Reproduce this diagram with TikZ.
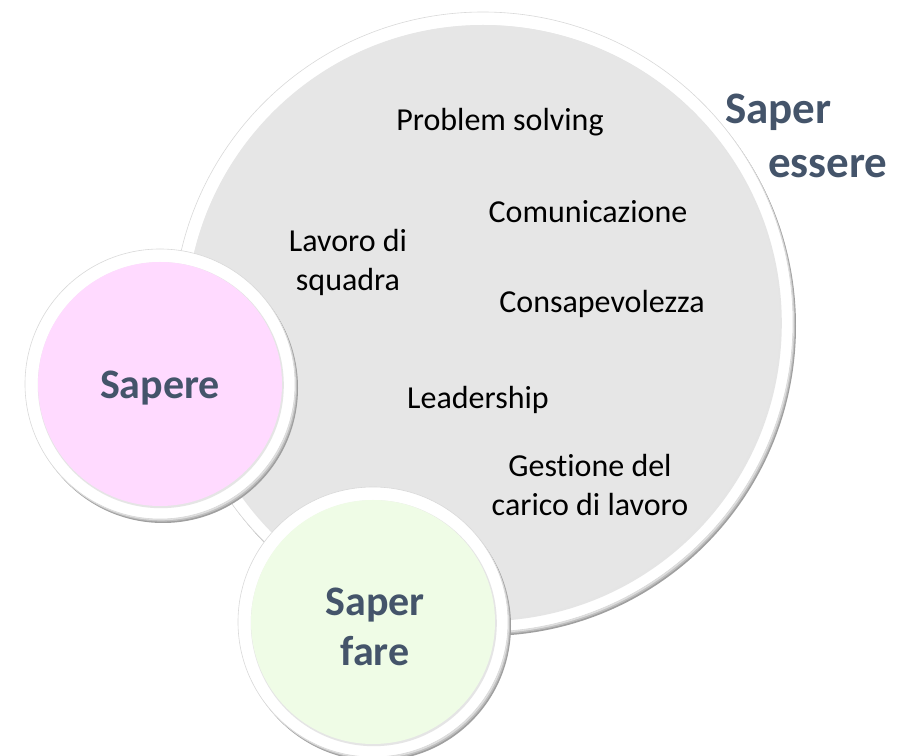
\documentclass[tikz,border=0pt]{standalone}
\usepackage{fontspec}
\setmainfont{Carlito}[Ligatures=NoCommon]
\usepackage{tikz}

\definecolor{discgray}{HTML}{E6E6E6}
\definecolor{discpink}{HTML}{FFDAFF}
\definecolor{discgreen}{HTML}{EFFCE6}
\definecolor{titleblue}{HTML}{44546A}

\tikzset{
    skill/.style={font=\fontsize{16}{19.5}\selectfont, align=center, text=black},
    area/.style={font=\fontsize{21}{25}\selectfont\bfseries, align=center, text=titleblue},
}

% bevelled disc: x, y, radius, fill colour
\newcommand{\ringdisc}[4]{%
    \fill[gray!75] (#1+3,#2-4) circle (#3);
    \fill[gray!50] (#1+2,#2-2.6) circle (#3);
    \fill[gray!25] (#1+1,#2-1.3) circle (#3);
    \fill[white] (#1,#2) circle (#3);
    \draw[gray!30, line width=0.3pt] (#1,#2) circle (#3);
    \fill[gray!20] (#1+0.8,#2-1.2) circle (#3-12);
    \fill[#4] (#1,#2) circle (#3-13);
}

\begin{document}
\begin{tikzpicture}[x=0.5pt, y=0.5pt]
        \useasboundingbox (0,0) rectangle (902,756);

        % Big disc
        \ringdisc{483}{434}{310}{discgray}

        % Small discs
        \ringdisc{160}{372}{135}{discpink}
        \ringdisc{373}{134}{135}{discgreen}

        % Skills
        \node[skill] (problem) at (500,634) {Problem solving};
        \node[skill] (comunicazione) at (588,544) {Comunicazione};
        \node[skill] (lavoro) at (348,494) {Lavoro di\\squadra};
        \node[skill] (consapevolezza) at (602,452) {Consapevolezza};
        \node[skill] (leadership) at (478,356) {Leadership};
        \node[skill] (gestione) at (590,271) {Gestione del\\carico di lavoro};

        % Areas
        \node[area] (sapere) at (160,368) {Sapere};
        \node[area] (saperfare) at (375,129) {Saper\\fare};
        \node[area, font=\fontsize{22.5}{27}\selectfont\bfseries, align=left, anchor=west]
            (saperessere) at (718,620) {Saper\\\hspace*{21.5pt}essere};
    \end{tikzpicture}
\end{document}
